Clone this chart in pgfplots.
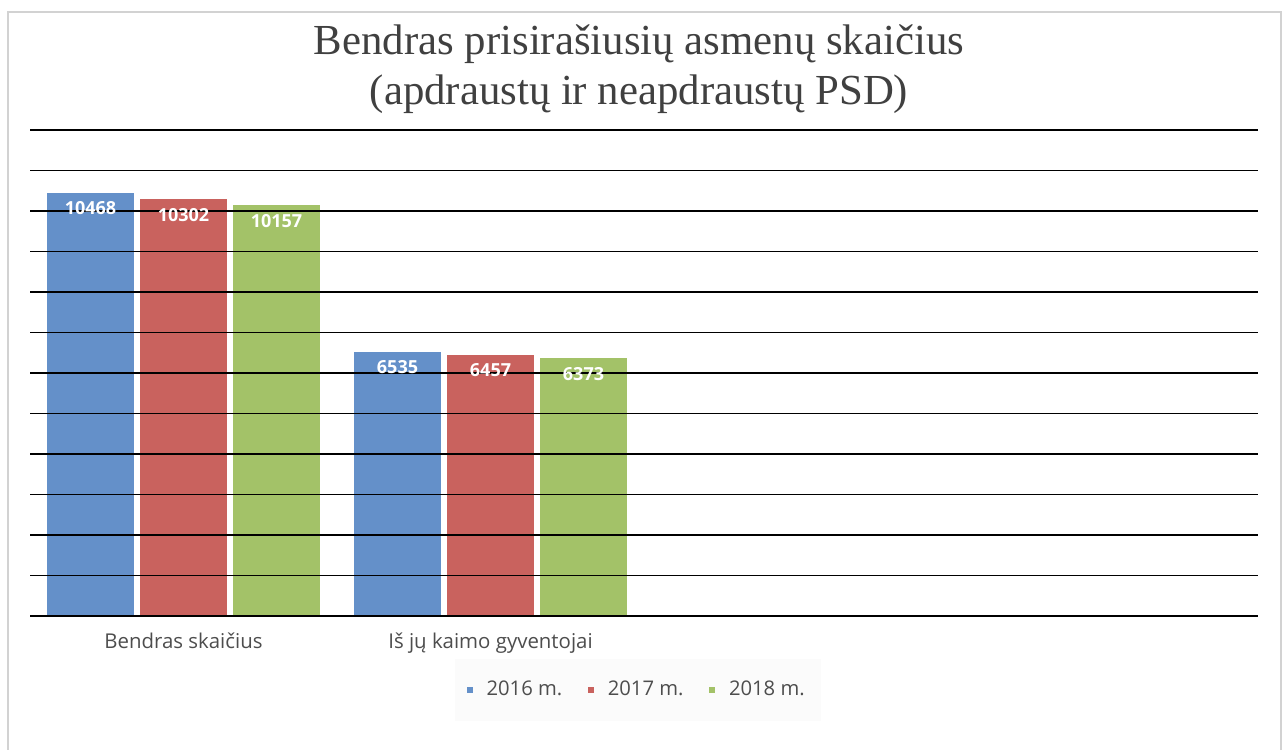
\documentclass[border=0pt]{standalone}
\usepackage{pgfplots}
\pgfplotsset{compat=1.18}
\usepackage{fontspec}
\setmainfont{Open Sans}
\newfontfamily\titlefont{Liberation Serif}
\definecolor{xlblue}{HTML}{6490C9}
\definecolor{xlred}{HTML}{C9625E}
\definecolor{xlgreen}{HTML}{A3C268}
\definecolor{txtgray}{HTML}{4D4D4D}
\definecolor{titlegray}{HTML}{404040}

\begin{document}
\begin{tikzpicture}
% page frame (1px = 0.5pt)
\path[use as bounding box] (-15pt,-66.5pt) rectangle (626.5pt,308pt);
\draw[gray!35, line width=0.8pt] (-11pt,-72pt) rectangle (625.5pt,302pt);
\begin{axis}[
    at={(0,0)}, anchor=south west,
    scale only axis,
    width=614pt, height=243pt,
    ybar=2.5pt,
    bar width=44pt,
    xmin=-0.5, xmax=3.5,
    ymin=0, ymax=12000,
    ytick={0,1000,...,12000},
    yticklabels={},
    scaled y ticks=false,
    xtick={0,1},
    xticklabels={Bendras skaičius, Iš jų kaimo gyventojai},
    major tick length=0pt,
    axis line style={draw=none},
    ymajorgrids,
    grid style={black, line width=0.75pt},
    axis on top,
    xticklabel style={font=\fontsize{10.2}{12}\selectfont, text=txtgray, yshift=-5pt},
    nodes near coords,
    every node near coord/.append style={font=\bfseries\fontsize{9}{10}\selectfont,
        text=white, anchor=north, inner sep=1pt, yshift=-3.5pt,
        /pgf/number format/1000 sep={},
        /pgf/number format/assume math mode=true},
    legend columns=3,
    legend style={at={(0.495,-0.152)}, anchor=center, draw=none, fill=gray!3,
        font=\fontsize{10.1}{12}\selectfont, text=txtgray,
        inner xsep=6pt, inner ysep=9pt,
        /tikz/every odd column/.append style={column sep=5pt},
        /tikz/every even column/.append style={column sep=11pt}},
    legend image code/.code={\fill[#1, draw=none] (0pt,-1.4pt) rectangle (2.8pt,1.4pt);},
]
    \addplot[fill=xlblue, draw=white] coordinates {(0,10468) (1,6535)};
    \addplot[fill=xlred, draw=white] coordinates {(0,10302) (1,6457)};
    \addplot[fill=xlgreen, draw=white] coordinates {(0,10157) (1,6373)};
    \legend{2016 m., 2017 m., 2018 m.}
\end{axis}
\node[anchor=base, font=\titlefont\fontsize{21.4}{25}\selectfont, text=titlegray]
    at (304.5pt,280.5pt) {Bendras prisirašiusių asmenų skaičius};
\node[anchor=base, font=\titlefont\fontsize{21.4}{25}\selectfont, text=titlegray]
    at (304.5pt,255.5pt) {(apdraustų ir neapdraustų PSD)};
\end{tikzpicture}
\end{document}
